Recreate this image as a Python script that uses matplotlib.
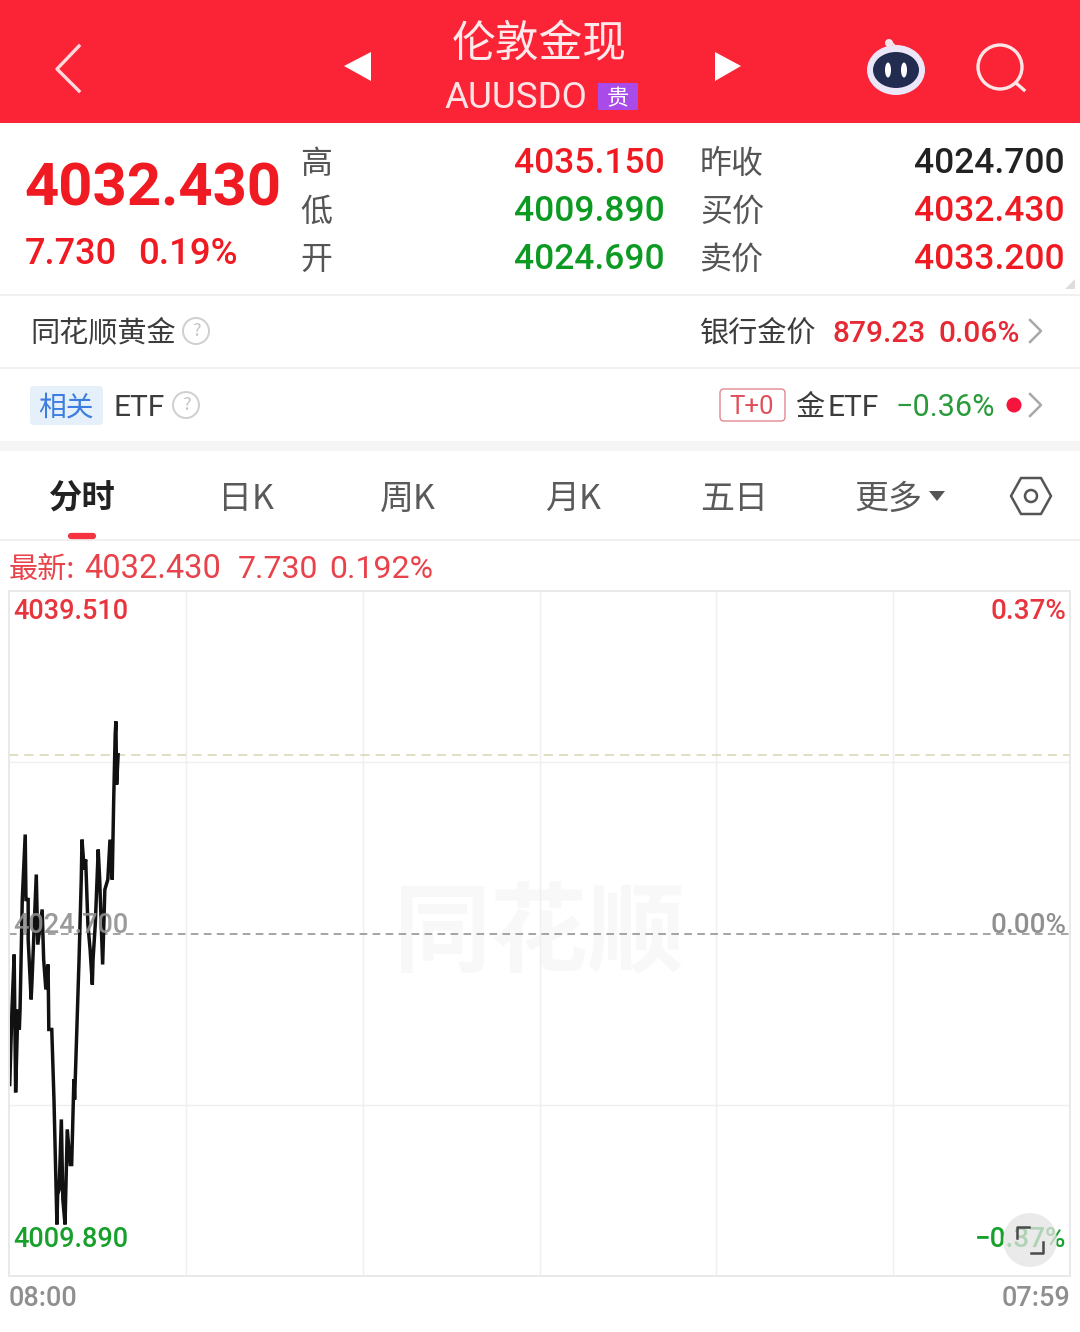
import matplotlib
matplotlib.use("Agg")
import matplotlib.pyplot as plt
from matplotlib.patches import Circle, Ellipse, FancyBboxPatch, Polygon, Rectangle

CJK = ["Noto Sans CJK SC", "DejaVu Sans"]
NUM = ["Roboto"]
plt.rcParams["font.family"] = CJK

RED = "#f01a22"
GREEN = "#0c9a22"
DARK = "#3c3c3c"
GRID = "#e9e9e9"

# minutes since 08:00 and price
minutes = [1, 4, 7, 9, 12, 14, 15, 18, 22, 23, 26, 26, 30, 31, 37, 39, 45, 47, 50, 53, 54, 58,
           61, 65, 66, 68, 71, 73, 76, 79, 83, 85, 88, 89, 92, 95, 98, 99, 102, 104, 107, 110,
           113, 114, 117, 121, 123, 127, 130, 134, 137, 140, 142, 144, 145, 146, 148]
prices = [4018.17, 4021.41, 4023.79, 4017.83, 4021.41, 4020.55, 4021.41, 4026.17, 4028.98,
          4026.17, 4026.17, 4024.44, 4021.85, 4022.49, 4027.25, 4024.22, 4025.74, 4023.58,
          4022.28, 4023.36, 4020.55, 4020.55, 4017.52, 4012.12, 4013.42, 4013.63, 4016.66,
          4013.20, 4012.12, 4016.23, 4014.71, 4014.71, 4018.39, 4017.52, 4020.55, 4023.58,
          4027.03, 4028.76, 4027.47, 4027.90, 4025.09, 4024.01, 4022.49, 4023.58, 4025.09,
          4028.33, 4027.03, 4023.36, 4026.60, 4027.03, 4028.76, 4027.03, 4030.49, 4033.30,
          4033.87, 4031.14, 4032.43]
open_minutes = [0, 0, 1]
open_prices = [4024.74, 4018.17, 4018.17]

y_min = 4009.89
y_max = 4039.51
prev_close = 4024.70
last_price = 4032.43
total_minutes = 1439

tabs = ["分时", "日K", "周K", "月K", "五日", "更多"]
tab_x = [82, 246, 408, 573, 734, 888]

fig = plt.figure(figsize=(10.8, 13.32), dpi=100, facecolor="white")


def px_axes(z):
    a = fig.add_axes([0, 0, 1, 1], zorder=z)
    a.set_xlim(0, 1080)
    a.set_ylim(1332, 0)
    a.axis("off")
    a.patch.set_alpha(0)
    return a


bg = px_axes(0)
top = px_axes(2)


def txt(x, y, s, size, color=DARK, ha="left", fam=CJK, **kw):
    top.text(x, y + 4.5, s, fontsize=size, color=color, ha=ha, va="center", family=fam, **kw)


# header
bg.add_patch(Rectangle((0, 0), 1080, 123, color="#fb2336", lw=0))
bg.plot([79, 57, 79], [46, 69, 91], color="#ffd9dc", lw=2.4)
bg.add_patch(Polygon([[371, 52], [371, 81], [344, 66]], color="white", lw=0))
bg.add_patch(Polygon([[715, 52], [715, 81], [741, 66]], color="white", lw=0))
txt(539, 40, "伦敦金现", 31.5, "#ffe9ea", ha="center", weight="light")
txt(444, 94, "AUUSDO", 26.5, "#ffe3e5", fam=NUM)
bg.add_patch(Rectangle((598, 83), 40, 27, color="#a94be8", lw=0))
txt(618, 94, "贵", 16, "white", ha="center")
bg.add_patch(Ellipse((896, 70), 58, 50, color="#ece7f8", lw=0))
bg.add_patch(Ellipse((896, 70), 46, 36, color="#222c50", lw=0))
bg.add_patch(Ellipse((888, 70), 6, 15, color="white", lw=0))
bg.add_patch(Ellipse((904, 70), 6, 15, color="white", lw=0))
bg.add_patch(Circle((889, 43), 4, color="#f3e5ea", lw=0))
bg.plot([892, 897], [43, 48], color="#f3e5ea", lw=1.5)
bg.add_patch(Circle((1000, 67), 22, fill=False, ec="#ffe6e6", lw=2.4))
bg.plot([1016, 1024], [83, 90], color="#ffe6e6", lw=2.4)

# quote block
txt(24, 185, "4032.430", 43, RED, fam=NUM, weight="bold")
txt(25, 250, "7.730", 26, RED, fam=NUM, weight="medium")
txt(138, 250, "0.19%", 26.5, RED, fam=NUM, weight="medium")
for y, lab, val, col in [(159, "高", "4035.150", RED), (207, "低", "4009.890", GREEN), (255, "开", "4024.690", GREEN)]:
    txt(300, y, lab, 23, "#555555", weight="light")
    txt(665, y, val, 25.5, col, ha="right", fam=NUM, weight="medium")
for y, lab, val, col in [(159, "昨收", "4024.700", "#222222"), (207, "买价", "4032.430", RED), (255, "卖价", "4033.200", RED)]:
    txt(700, y, lab, 23, "#555555", weight="light")
    txt(1065, y, val, 25.5, col, ha="right", fam=NUM, weight="medium")
bg.add_patch(Polygon([[1075, 279], [1075, 289], [1065, 289]], color="#dddddd", lw=0))

# info rows
for y in [295, 368, 540]:
    bg.plot([0, 1080], [y, y], color="#eeeeee", lw=1.2)
bg.add_patch(Rectangle((0, 441), 1080, 10, color="#f5f5f5", lw=0))
txt(30, 329, "同花顺黄金", 21)
txt(700, 329, "银行金价", 21)
txt(832, 329, "879.23", 21.5, "#e52a35", fam=NUM, weight="medium")
txt(939, 329, "0.06%", 21.5, "#e52a35", fam=NUM, weight="medium")
bg.add_patch(FancyBboxPatch((33, 389), 67, 33, boxstyle="round,pad=3,rounding_size=4", color="#e6f0fb", lw=0))
txt(66, 403, "相关", 20, "#3b7de0", ha="center")
txt(113, 403, "ETF", 21.5, fam=NUM)
for cx, cy in [(196, 331), (186, 405)]:
    bg.add_patch(Circle((cx, cy), 13, fill=False, ec="#cfcfcf", lw=1.4))
    txt(cx, cy - 4, "?", 13, "#c4c4c4", ha="center")
bg.add_patch(FancyBboxPatch((722, 391), 61, 28, boxstyle="round,pad=2,rounding_size=4", fc="white", ec="#e08a90", lw=1))
txt(752, 403, "T+0", 18.5, "#e0505c", ha="center", fam=NUM)
txt(795, 403, "金", 21)
txt(828, 403, "ETF", 21.5, fam=NUM)
txt(896, 403, "−0.36%", 22, "#2a9a3a", fam=NUM)
bg.add_patch(Circle((1014, 405), 7.5, color="#f5153c", lw=0))
for cy in [331, 405]:
    bg.plot([1030, 1041, 1030], [cy - 11, cy, cy + 11], color="#a8a8a8", lw=1.8)

# tabs
for i, (name, x) in enumerate(zip(tabs, tab_x)):
    if i == 0:
        txt(x, 495, name, 24, "#222222", ha="center", weight="bold")
    else:
        txt(x, 495, name, 24.5, "#5a5a5a", ha="center", weight="light")
bg.plot([71, 93], [536, 536], color="#f53340", lw=4.5, solid_capstyle="round")
bg.add_patch(Polygon([[929, 491], [945, 491], [937, 501]], color="#555555", lw=0))
bg.add_patch(Polygon([[1011, 496], [1021, 478], [1041, 478], [1051, 496], [1041, 514], [1021, 514]],
                     fill=False, ec="#555555", lw=1.8, joinstyle="round"))
bg.add_patch(Circle((1031, 496), 6, fill=False, ec="#555555", lw=1.8))

# chart, on its own price and time scales
ax = fig.add_axes([9 / 1080, (1332 - 1276) / 1332, 1061 / 1080, 685 / 1332], zorder=1)
ax.set_xlim(0, total_minutes)
ax.set_ylim(y_min, y_max)
ax.set_xticks([])
ax.set_yticks([])
ax.patch.set_alpha(0)
for s in ax.spines.values():
    s.set_color(GRID)
    s.set_linewidth(1.4)
for i in range(1, 6):
    ax.axvline(total_minutes * i / 6, color="#efefef", lw=1)
ax.axhline((y_min + prev_close) / 2, color="#efefef", lw=1)
ax.axhline((y_max + prev_close) / 2, color="#efefef", lw=1)
ax.axhline(prev_close, color="#8c8c8c", lw=1.1, dashes=(5, 3.5))
ax.axhline(last_price, color="#d8d4b0", lw=1.1, dashes=(6, 4))
ax.text(0.5, 0.497, "同花顺", transform=ax.transAxes, ha="center", va="center", fontsize=70,
        color="#f8f8f8", weight="bold", style="italic", family=CJK, zorder=0)
ax.plot(open_minutes, open_prices, color="#777777", lw=1.3)
ax.plot(minutes, prices, color="#111111", lw=2.5, solid_joinstyle="miter", clip_on=True)

# price and percent labels
txt(9, 565, "最新:", 21, "#e8434a")
txt(84, 565, "4032.430", 23.5, "#e8434a", fam=NUM)
txt(238, 565, "7.730", 23, "#e8434a", fam=NUM)
txt(329, 565, "0.192%", 23, "#e8434a", fam=NUM)
txt(13, 607, "4039.510", 19.5, "#e8343c", fam=NUM, weight="medium")
txt(1066, 607, "0.37%", 20, "#e8343c", ha="right", fam=NUM, weight="medium")
txt(13, 921, "4024.700", 19.5, "#8f8f8f", fam=NUM, weight="medium", alpha=0.9)
txt(1066, 921, "0.00%", 20, "#8f8f8f", ha="right", fam=NUM, weight="medium")
txt(13, 1235, "4009.890", 19.5, "#17a02c", fam=NUM, weight="medium")
txt(1066, 1235, "−0.37%", 20, "#17a02c", ha="right", fam=NUM, weight="medium")
txt(9, 1294, "08:00", 19.5, "#8f8f8f", fam=NUM, weight="medium")
txt(1070, 1294, "07:59", 19.5, "#8f8f8f", ha="right", fam=NUM, weight="medium")

# expand button over the last label
top.add_patch(Circle((1030, 1240), 27, color="#e4e4e4", alpha=0.75, lw=0, zorder=5))
top.plot([1017, 1017, 1029], [1238, 1227, 1227], color="#4a4a4a", lw=1.8, zorder=6)
top.plot([1031, 1043, 1043], [1253, 1253, 1242], color="#4a4a4a", lw=1.8, zorder=6)

fig.savefig("out.png", dpi=100)
